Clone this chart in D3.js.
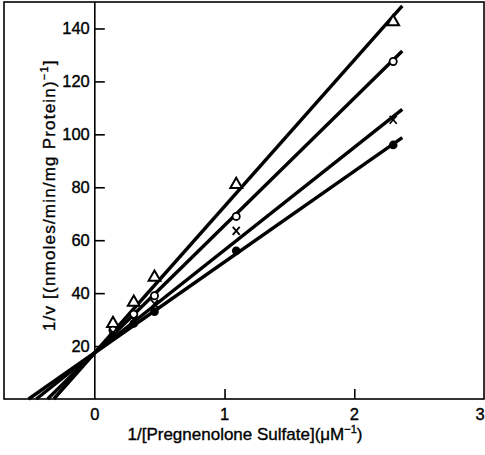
<!DOCTYPE html>
<html>
<head>
<meta charset="utf-8">
<script src="https://cdn.jsdelivr.net/npm/d3@7"></script>
<style>
  html, body { margin: 0; padding: 0; background: #fff; }
  svg text { font-family: "Liberation Sans", Arial, sans-serif; fill: #000; stroke: #000; stroke-width: 0.35; }
</style>
</head>
<body>
<div id="chart"></div>
<script>
// ---- data ----
const seriesNames = ["triangle", "openCircle", "cross", "filledCircle"];
const xValues = [0.14, 0.30, 0.46, 1.09, 2.30];
const triangleValues = [28.5, 36.5, 46, 81, 142.5];
const openCircleValues = [26, 32, 39, 69, 127.5];
const crossValues = [25, 30, 36, 63.5, 105.5];
const filledCircleValues = [24, 28.5, 33, 56, 96];
const lineIntercepts = [17.5, 17.5, 17.5, 17.5];
const lineSlopes = [55.3, 48.1, 38.8, 34.3];
const lineEndX = 2.37;
const xTicks = [0, 1, 2, 3];
const yTicks = [20, 40, 60, 80, 100, 120, 140];

const W = 485, H = 455;
const svg = d3.select("#chart").append("svg").attr("width", W).attr("height", H);

const x = d3.scaleLinear().domain([-0.7, 3]).range([4, 484]);
const y = d3.scaleLinear().domain([0, 150]).range([399, 2]);

// frame
svg.append("rect").attr("x", x(-0.7)).attr("y", y(150))
  .attr("width", x(3) - x(-0.7)).attr("height", y(0) - y(150))
  .attr("fill", "none").attr("stroke", "#000").attr("stroke-width", 1.6);

// y axis at x=0
const yAxis = d3.axisRight(y).tickValues(yTicks).tickSize(10).tickFormat("");
const gy = svg.append("g").attr("transform", `translate(${x(0)},0)`).call(yAxis);
gy.select(".domain").remove();
gy.selectAll(".tick line").attr("stroke", "#000").attr("stroke-width", 1.6);
svg.append("line").attr("x1", x(0)).attr("x2", x(0)).attr("y1", y(150)).attr("y2", y(0))
  .attr("stroke", "#000").attr("stroke-width", 1.6);
svg.selectAll(".ylab").data(yTicks).enter().append("text")
  .attr("x", x(0) - 5).attr("y", d => y(d)).attr("dy", "0.36em")
  .attr("text-anchor", "end").attr("font-size", 16.5).text(d => d);

// x axis ticks (upward from bottom)
const xAxis = d3.axisTop(x).tickValues([1, 2]).tickSize(10).tickFormat("");
const gx = svg.append("g").attr("transform", `translate(0,${y(0)})`).call(xAxis);
gx.select(".domain").remove();
gx.selectAll(".tick line").attr("stroke", "#000").attr("stroke-width", 1.6);
svg.selectAll(".xlab").data(xTicks).enter().append("text")
  .attr("x", d => Math.min(x(d), 480)).attr("y", 420)
  .attr("text-anchor", "middle").attr("font-size", 16.5).text(d => d);

// axis titles
const xt = svg.append("text").attr("x", 245).attr("y", 440).attr("text-anchor", "middle").attr("font-size", 17);
xt.append("tspan").text("1/[Pregnenolone Sulfate](\u03BCM");
xt.append("tspan").attr("font-size", 11).attr("dy", -7).text("\u22121");
xt.append("tspan").attr("dy", 7).text(")");

const yt = svg.append("text").attr("transform", `translate(55,${y(77)}) rotate(-90)`)
  .attr("text-anchor", "middle").attr("font-size", 17).attr("letter-spacing", 1.2);
yt.append("tspan").text("1/v [(nmoles/min/mg Protein)");
yt.append("tspan").attr("font-size", 11).attr("dy", -7).text("\u22121");
yt.append("tspan").attr("dy", 7).text("]");

// fitted lines
const line = d3.line().x(d => x(d[0])).y(d => y(d[1]));
lineIntercepts.forEach((b, i) => {
  const m = lineSlopes[i];
  const x0 = -b / m;
  svg.append("path").datum([[x0, 0], [lineEndX, b + m * lineEndX]])
    .attr("d", line).attr("fill", "none").attr("stroke", "#000").attr("stroke-width", 3.4);
});

// markers
const pts = (vals) => xValues.map((v, i) => [v, vals[i]]);
const triSym = d3.symbol().type(d3.symbolTriangle).size(60);
svg.selectAll(".tri").data(pts(triangleValues)).enter().append("path")
  .attr("transform", d => `translate(${x(d[0])},${y(d[1])})`).attr("d", triSym)
  .attr("fill", "#fff").attr("stroke", "#000").attr("stroke-width", 2);
svg.selectAll(".oc").data(pts(openCircleValues)).enter().append("circle")
  .attr("cx", d => x(d[0])).attr("cy", d => y(d[1])).attr("r", 3.6)
  .attr("fill", "#fff").attr("stroke", "#000").attr("stroke-width", 1.8);
svg.selectAll(".cr").data(pts(crossValues)).enter().append("g")
  .attr("transform", d => `translate(${x(d[0])},${y(d[1])})`)
  .each(function () {
    const g = d3.select(this);
    g.append("line").attr("x1", -3.5).attr("y1", -4).attr("x2", 3.5).attr("y2", 4).attr("stroke", "#000").attr("stroke-width", 1.8);
    g.append("line").attr("x1", 3.5).attr("y1", -4).attr("x2", -3.5).attr("y2", 4).attr("stroke", "#000").attr("stroke-width", 1.8);
  });
svg.selectAll(".fc").data(pts(filledCircleValues)).enter().append("circle")
  .attr("cx", d => x(d[0])).attr("cy", d => y(d[1])).attr("r", 4.3)
  .attr("fill", "#000");
</script>
</body>
</html>
